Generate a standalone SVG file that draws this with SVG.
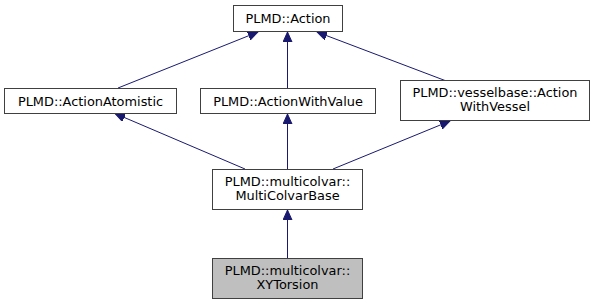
<svg xmlns="http://www.w3.org/2000/svg" width="595" height="305" viewBox="0 0 595 305">
<style>
.node rect{fill:#ffffff;stroke:#404040;stroke-width:1}
.node.sel rect{fill:#bfbfbf}
.node text{font-family:"DejaVu Sans","Liberation Sans",sans-serif;font-size:12.9px;fill:#000;text-anchor:middle}
.edge{stroke:#191970;stroke-width:1;fill:none;marker-end:url(#arr)}
</style>
<defs>
<marker id="arr" markerUnits="userSpaceOnUse" markerWidth="11" markerHeight="10" refX="10" refY="4.5" orient="auto">
<path d="M0,0 L10,4.5 L0,9 z" fill="#191970" stroke="#191970" stroke-width="1"/>
</marker>
</defs>
<g id="edges">
<path class="edge" d="M118,88 L258,32"/>
<path class="edge" d="M287.5,88 L287.5,32"/>
<path class="edge" d="M445,80.5 L317,32"/>
<path class="edge" d="M245,169 L115,113.5"/>
<path class="edge" d="M287.5,169 L287.5,114"/>
<path class="edge" d="M333,169 L450,121"/>
<path class="edge" d="M287.5,258 L287.5,210"/>
</g>
<g id="action" class="node">
<rect x="233.5" y="5.5" width="109" height="26"/>
<text x="288" y="23">PLMD::Action</text>
</g>
<g id="actionatomistic" class="node">
<rect x="4.5" y="88.5" width="172" height="25"/>
<text x="90.5" y="105.5">PLMD::ActionAtomistic</text>
</g>
<g id="actionwithvalue" class="node">
<rect x="200.5" y="88.5" width="175" height="25"/>
<text x="288" y="105.5">PLMD::ActionWithValue</text>
</g>
<g id="actionwithvessel" class="node">
<rect x="400.5" y="80.5" width="189" height="40"/>
<text x="495" y="97">PLMD::vesselbase::Action</text>
<text x="495" y="111">WithVessel</text>
</g>
<g id="multicolvarbase" class="node">
<rect x="212.5" y="169.5" width="150" height="40"/>
<text x="287.5" y="186">PLMD::multicolvar::</text>
<text x="287.5" y="200">MultiColvarBase</text>
</g>
<g id="xytorsion" class="node sel">
<rect x="212.5" y="258.5" width="150" height="40"/>
<text x="287.5" y="275">PLMD::multicolvar::</text>
<text x="287.5" y="289">XYTorsion</text>
</g>
</svg>
